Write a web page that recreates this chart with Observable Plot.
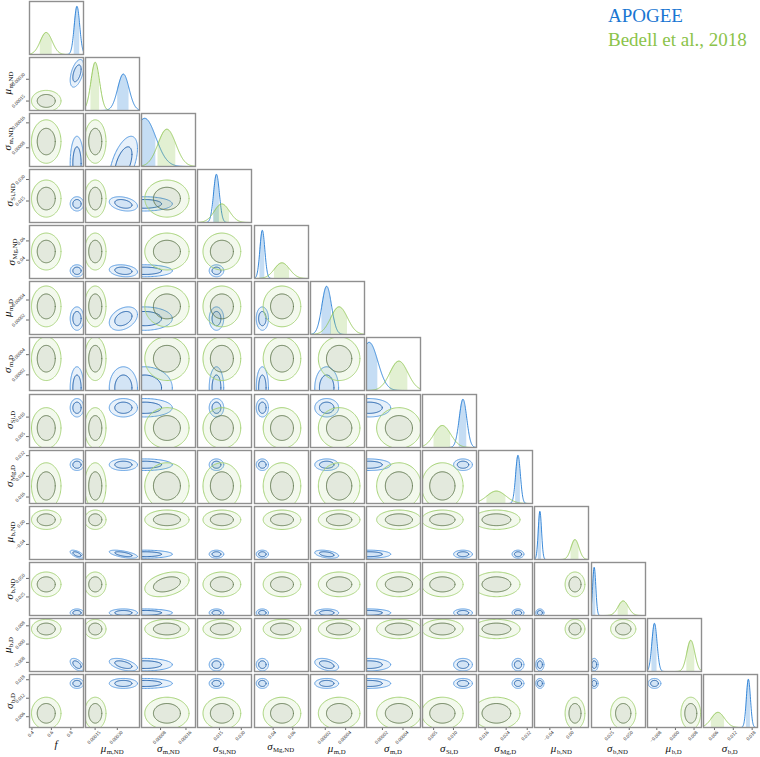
<!DOCTYPE html>
<html><head><meta charset="utf-8">
<script src="https://cdn.jsdelivr.net/npm/d3@7"></script>
<script src="https://cdn.jsdelivr.net/npm/@observablehq/plot@0.6"></script>
<style>
html,body{margin:0;padding:0;background:#fff;}
#wrap{position:relative;width:760px;height:757px;overflow:hidden;background:#fff;}
.t{position:absolute;font-family:"Liberation Serif","DejaVu Serif",serif;color:#111;white-space:nowrap;line-height:1;}
.t i{font-style:italic;font-size:11px;}
.t .s{font-size:6.8px;position:relative;top:2px;margin-left:0.5px;}
.leg{position:absolute;left:608px;font-family:"Liberation Serif","DejaVu Serif",serif;font-size:19px;white-space:nowrap;line-height:1;}
</style></head><body><div id="wrap"></div>
<script>
// ---------------- data ----------------
const paramSymbol = ["f","μ","σ","σ","σ","μ","σ","σ","σ","μ","σ","μ","σ"];
const paramSub = ["","m,ND","m,ND","Si,ND","Mg,ND","m,D","m,D","Si,D","Mg,D","b,ND","b,ND","b,D","b,D"];
const domainLo = [0.375, 0.000085, 0.00002, 0, 0.021, 0.0000055, 0.0000045, 0.0022, 0.0135, -0.069, 0, -0.012, 0.0025];
const domainHi = [0.93, 0.00045, 0.00019, 0.037, 0.076, 0.0000585, 0.000057, 0.0158, 0.034, 0.033, 0.0715, 0.0112, 0.0197];
const tickValues = [[0.4,0.6,0.8],[0.00015,0.00030],[0.00008,0.00016],[0.015,0.030],[0.04,0.06],[0.00002,0.00004],[0.00002,0.00004],[0.005,0.010],[0.016,0.024,0.032],[-0.04,0.00],[0.025,0.050],[-0.008,0.000,0.008],[0.006,0.012,0.018]];
const tickLabels = [["0.4","0.6","0.8"],["0.00015","0.00030"],["0.00008","0.00016"],["0.015","0.030"],["0.04","0.06"],["0.00002","0.00004"],["0.00002","0.00004"],["0.005","0.010"],["0.016","0.024","0.032"],["−0.04","0.00"],["0.025","0.050"],["−0.008","0.000","0.008"],["0.006","0.012","0.018"]];
const seriesNames = ["APOGEE", "Bedell et al., 2018"];
const apogeeMean = [0.863, 0.000341, 0.0000302, 0.0130, 0.029, 0.0000214, 0.0000071, 0.0124, 0.0285, -0.0588, 0.0036, -0.0090, 0.0168];
const apogeeSd   = [0.028, 0.0000383, 0.0000349, 0.0020, 0.0025, 0.0000047, 0.0000084, 0.00095, 0.0009, 0.0031, 0.0021, 0.0011, 0.00065];
const bedellMean = [0.547, 0.000151, 0.000100, 0.0167, 0.049, 0.0000336, 0.0000360, 0.0072, 0.0203, 0.0075, 0.042, 0.0066, 0.0071];
const bedellSd   = [0.061, 0.0000292, 0.000028, 0.0052, 0.0077, 0.0000082, 0.0000087, 0.0021, 0.0036, 0.0075, 0.0067, 0.0017, 0.0021];
const apogeeCorr = [[0,1,0.5],[1,2,0.55],[1,3,-0.3],[1,4,-0.2],[1,5,0.35],[0,9,-0.6],[1,9,-0.6],[0,11,-0.5],[1,11,-0.5],[5,9,-0.4],[5,11,-0.4]];
const bedellCorr = [[2,10,0.35]];

// ---------------- styles ----------------
const chains = [
  {mean: apogeeMean, sd: apogeeSd, corr: apogeeCorr,
   base: "#1976D2", outerLine: "#5b9de3", innerLine: "#1f5fab", innerFill: "#1976D2", innerOp: 0.1},
  {mean: bedellMean, sd: bedellSd, corr: bedellCorr,
   base: "#8BC34A", outerLine: "#a8d47a", innerLine: "#667d55", innerFill: "#777f6a", innerOp: 0.12}
];
const N = 13, STEP = 56.15, X0 = 29, Y0 = 0.5, PW = 54, PH = 53;
const FS = 5;
const PAD = 3;
const R_OUT = 2.486, R_IN = 1.515;
const FONT = '"Liberation Serif", "DejaVu Serif", serif';
const wrap = document.getElementById("wrap");

function textLen(s){ let w=0; for (const c of s) w += c==="." ? 0.25 : (c==="−" ? 0.564 : 0.5); return w*FS; }
function bboxSize(s){ return (textLen(s) + FS*0.75) * Math.SQRT1_2; }
function maxBbox(p){ return d3.max(tickLabels[p], bboxSize); }
function corrOf(ch, i, j){ const e = ch.corr.find(([a,b]) => (a===i&&b===j)||(a===j&&b===i)); return e ? e[2] : 0; }

function ellipseLoop(mx,my,sx,sy,rho,r){
  const k = Math.sqrt(1-rho*rho);
  return d3.range(0,121).map(i => { const t = 2*Math.PI*i/120; const u = r*Math.cos(t), v = r*Math.sin(t);
    return {x: mx + sx*u, y: my + sy*(rho*u + k*v)}; });
}
function ellipseBand(mx,my,sx,sy,rho,r){
  const k = Math.sqrt(1-rho*rho);
  return d3.range(0,121).map(i => { const t = Math.PI - Math.PI*i/120; const u = r*Math.cos(t), w = r*Math.sin(t);
    return {x: mx + sx*u, y1: my + sy*(rho*u - k*w), y2: my + sy*(rho*u + k*w)}; });
}

function xAxisMarks(p){
  const marks = [Plot.tickX(tickValues[p], {x: d => d, insetTop: PH, insetBottom: -3, stroke: "#444", strokeWidth: 0.8})];
  tickValues[p].forEach((v,i) => {
    const lab = tickLabels[p][i];
    marks.push(Plot.text([v], {x: d => d, text: () => lab, frameAnchor: "bottom", rotate: -45, textAnchor: "middle",
      fontSize: FS, fill: "#222", dy: PAD + 1 + bboxSize(lab)/2}));
  });
  return marks;
}
function yAxisMarks(p){
  const marks = [Plot.tickY(tickValues[p], {y: d => d, insetRight: PW, insetLeft: -3, stroke: "#444", strokeWidth: 0.8})];
  tickValues[p].forEach((v,i) => {
    const lab = tickLabels[p][i];
    marks.push(Plot.text([v], {y: d => d, text: () => lab, frameAnchor: "left", rotate: -45, textAnchor: "middle",
      fontSize: FS, fill: "#222", dx: -(PAD + 1 + bboxSize(lab)/2)}));
  });
  return marks;
}

function place(node, r, c){
  node.style.position = "absolute";
  node.style.left = Math.round(X0 + c*STEP) + "px";
  node.style.top = Math.round(Y0 + r*STEP) + "px";
  wrap.appendChild(node);
}
const plotStyle = {overflow: "visible", background: "transparent", fontFamily: FONT, color: "#222"};

// ---------------- diagonal panels ----------------
for (let p = 0; p < N; p++){
  const lo = domainLo[p], hi = domainHi[p], n = 240;
  const xs = d3.range(n+1).map(k => lo + (hi-lo)*k/n);
  const dens = chains.map(ch => {
    const m = ch.mean[p], s = ch.sd[p];
    const raw = xs.map(x => Math.exp(-0.5*((x-m)/s)**2));
    const mass = d3.sum(raw)*(hi-lo)/n;
    return {m, s, mass, pts: xs.map((x,k) => ({x, y: raw[k]/mass}))};
  });
  const ymax = 1.1*d3.max(dens, d => d3.max(d.pts, q => q.y));
  const marks = [];
  dens.forEach((d, ci) => {
    const ch = chains[ci];
    const a = Math.max(lo, d.m - d.s), b = Math.min(hi, d.m + d.s);
    if (b > a){
      const shade = d3.range(61).map(k => { const x = a + (b-a)*k/60; return {x, y: Math.exp(-0.5*((x-d.m)/d.s)**2)/d.mass}; });
      marks.push(Plot.areaY(shade, {x: "x", y: "y", fill: ch.base, fillOpacity: 0.25}));
    }
    marks.push(Plot.line(d.pts, {x: "x", y: "y", stroke: ch.base, strokeOpacity: 0.85, strokeWidth: 1}));
  });
  if (p === N-1) marks.push(...xAxisMarks(p));
  marks.push(Plot.frame({stroke: "#8f8f8f", strokeWidth: 1.4}));
  const svg = Plot.plot({width: PW, height: PH, margin: 0, x: {domain: [lo, hi], axis: null}, y: {domain: [0, ymax], axis: null}, style: plotStyle, marks});
  place(svg, p, p);
}

// ---------------- 2D panels ----------------
for (let r = 1; r < N; r++){
  for (let c = 0; c < r; c++){
    const marks = [];
    chains.forEach(ch => {
      const mx = ch.mean[c], my = ch.mean[r], sx = ch.sd[c], sy = ch.sd[r], rho = corrOf(ch, c, r);
      marks.push(Plot.areaY(ellipseBand(mx,my,sx,sy,rho,R_OUT), {x: "x", y1: "y1", y2: "y2", fill: ch.base, fillOpacity: 0.1, clip: true}));
      marks.push(Plot.areaY(ellipseBand(mx,my,sx,sy,rho,R_IN), {x: "x", y1: "y1", y2: "y2", fill: ch.innerFill, fillOpacity: ch.innerOp, clip: true}));
      marks.push(Plot.line(ellipseLoop(mx,my,sx,sy,rho,R_OUT), {x: "x", y: "y", stroke: ch.outerLine, strokeWidth: 1, clip: true}));
      marks.push(Plot.line(ellipseLoop(mx,my,sx,sy,rho,R_IN), {x: "x", y: "y", stroke: ch.innerLine, strokeWidth: 1, clip: true}));
    });
    if (r === N-1) marks.push(...xAxisMarks(c));
    if (c === 0) marks.push(...yAxisMarks(r));
    marks.push(Plot.frame({stroke: "#8f8f8f", strokeWidth: 1.4}));
    const svg = Plot.plot({width: PW, height: PH, margin: 0,
      x: {domain: [domainLo[c], domainHi[c]], axis: null},
      y: {domain: [domainLo[r], domainHi[r]], axis: null},
      style: plotStyle, marks});
    place(svg, r, c);
  }
}

// ---------------- axis titles ----------------
function title(p){
  const d = document.createElement("div");
  d.className = "t";
  const i = document.createElement("i"); i.textContent = paramSymbol[p]; d.appendChild(i);
  if (paramSub[p]){ const s = document.createElement("span"); s.className = "s"; s.textContent = paramSub[p]; d.appendChild(s); }
  return d;
}
for (let c = 0; c < N; c++){
  const d = title(c);
  d.style.left = (X0 + c*STEP + PW/2) + "px";
  d.style.top = Math.min(747, Y0 + (N-1)*STEP + PH + PAD + maxBbox(c) + 6) + "px";
  d.style.transform = "translate(-50%,-50%)";
  wrap.appendChild(d);
}
for (let r = 1; r < N; r++){
  const d = title(r);
  d.style.left = Math.max(6, X0 - PAD - 1 - maxBbox(r) - 6) + "px";
  d.style.top = (Y0 + r*STEP + PH/2) + "px";
  d.style.transform = "translate(-50%,-50%) rotate(-90deg)";
  wrap.appendChild(d);
}

// ---------------- legend ----------------
seriesNames.forEach((name, i) => {
  const d = document.createElement("div");
  d.className = "leg";
  d.textContent = name;
  d.style.top = (6 + i*24.3) + "px";
  d.style.color = chains[i].base;
  wrap.appendChild(d);
});
</script></body></html>
